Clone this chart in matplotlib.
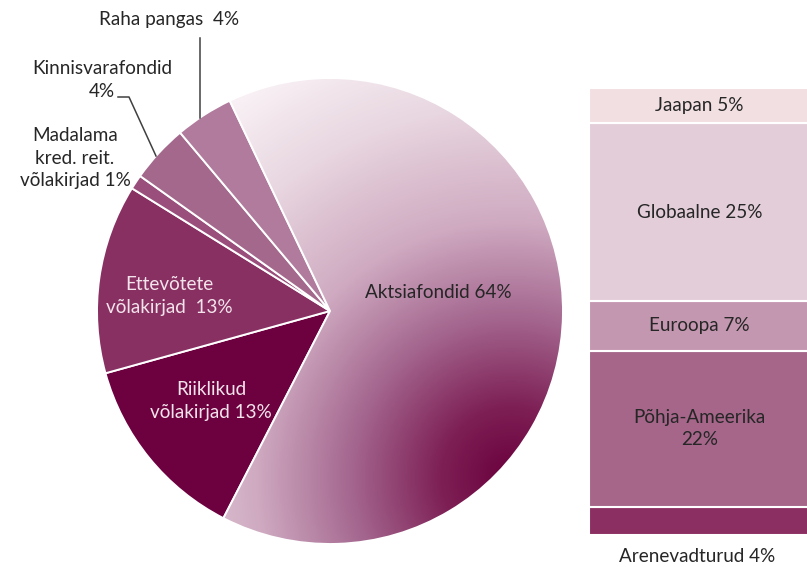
import numpy as np
import matplotlib
matplotlib.use("Agg")
import matplotlib.pyplot as plt
from matplotlib.colors import LinearSegmentedColormap
from matplotlib.patches import Wedge

# ---- data ----
pie_labels = ["Aktsiafondid 64%", "Riiklikud\nvõlakirjad 13%", "Ettevõtete\nvõlakirjad  13%",
              "Madalama\nkred. reit.\nvõlakirjad 1%", "Kinnisvarafondid\n4%", "Raha pangas  4%"]
pie_values = [64, 13, 13, 1, 4, 4]
pie_colors = ["#b27e9d", "#6d003f", "#893063", "#9a4e7c", "#a3688c", "#b07b9c"]

bar_labels = ["Arenevadturud 4%", "Põhja-Ameerika\n22%", "Euroopa 7%", "Globaalne 25%", "Jaapan 5%"]
bar_values = [4, 22, 7, 25, 5]
bar_colors = ["#8b2f62", "#a5668a", "#c497b0", "#e3cdd9", "#f2dfe2"]

W, H = 807, 567
fig = plt.figure(figsize=(W / 100, H / 100), dpi=100)
plt.rcParams['font.family'] = ['Lato', 'DejaVu Sans']
FS = 13.6

def frac(x0, y0, x1, y1):
    return [x0 / W, 1 - y1 / H, (x1 - x0) / W, (y1 - y0) / H]

# ---- pie ----
cx, cy, R = 330, 311, 233
axp = fig.add_axes(frac(cx - R, cy - R, cx + R, cy + R))
wedges, _ = axp.pie(pie_values, startangle=115.5, counterclock=False, colors=pie_colors,
                    radius=1, wedgeprops=dict(edgecolor="white", linewidth=1.4))
axp.set_aspect("equal")
axp.axis("off")

# gradient fill for the big slice
cmap = LinearSegmentedColormap.from_list("g", [
    (0.0, "#6a003d"), (0.15, "#7d1f55"), (0.35, "#a56890"),
    (0.55, "#cfaac1"), (0.8, "#e8d6e0"), (1.0, "#f8f0f4")])
n = 400
xs = np.linspace(-1, 1, n)
X, Y = np.meshgrid(xs, xs[::-1])
dcx, dcy = (512 - cx) / R, (cy - 478) / R
D = np.sqrt((X - dcx) ** 2 + (Y - dcy) ** 2) / 2.0
D = np.clip(D, 0, 1)
im = axp.imshow(D, cmap=cmap, extent=(-1, 1, -1, 1), origin="upper", zorder=1.5,
                interpolation="bilinear", vmin=0, vmax=1)
im.set_clip_path(wedges[0])
w0 = wedges[0]
axp.add_patch(Wedge((0, 0), 1, w0.theta1, w0.theta2, facecolor="none",
                    edgecolor="white", linewidth=1.4, zorder=2))
axp.set_xlim(-1, 1)
axp.set_ylim(-1, 1)

# ---- stacked bar ----
bx0, bx1, by0, by1 = 589, 810, 88, 535
axb = fig.add_axes(frac(bx0, by0, bx1, by1))
bottom = 0
for v, c, lab in zip(bar_values, bar_colors, bar_labels):
    axb.bar(0, v, bottom=bottom, width=1, color=c, edgecolor="white", linewidth=1.5)
    if not lab.startswith("Arenevad"):
        axb.text(0, bottom + v / 2, lab, ha="center", va="center", fontsize=FS,
                 color="#262626", linespacing=1.4)
    bottom += v
axb.set_xlim(-0.5, 0.5)
axb.set_ylim(0, sum(bar_values))
axb.axis("off")

# ---- overlay for outside labels / leaders ----
axo = fig.add_axes([0, 0, 1, 1], facecolor="none")
axo.set_xlim(0, W)
axo.set_ylim(H, 0)
axo.axis("off")

txt = "#262626"
axo.text(438, 292, pie_labels[0], ha="center", va="center", fontsize=FS, color=txt)
axo.text(211, 401, pie_labels[1], ha="center", va="center", fontsize=FS, color="#f3e4ec",
         linespacing=1.4)
axo.text(169, 296, pie_labels[2], ha="center", va="center", fontsize=FS, color="#f3e4ec",
         linespacing=1.4)
axo.text(75, 158, pie_labels[3], ha="center", va="center", fontsize=FS, color=txt,
         linespacing=1.4)
axo.text(102, 80, pie_labels[4], ha="center", va="center", fontsize=FS, color=txt,
         linespacing=1.4)
axo.text(169, 20, pie_labels[5], ha="center", va="center", fontsize=FS, color=txt)
axo.text(697, 557, bar_labels[0], ha="center", va="center", fontsize=FS, color=txt)

axo.plot([200, 200], [38, 118], color="#404040", lw=1.1)
axo.plot([118, 129, 156], [97, 97, 156], color="#404040", lw=1.1)

fig.savefig("out.png", dpi=100)
